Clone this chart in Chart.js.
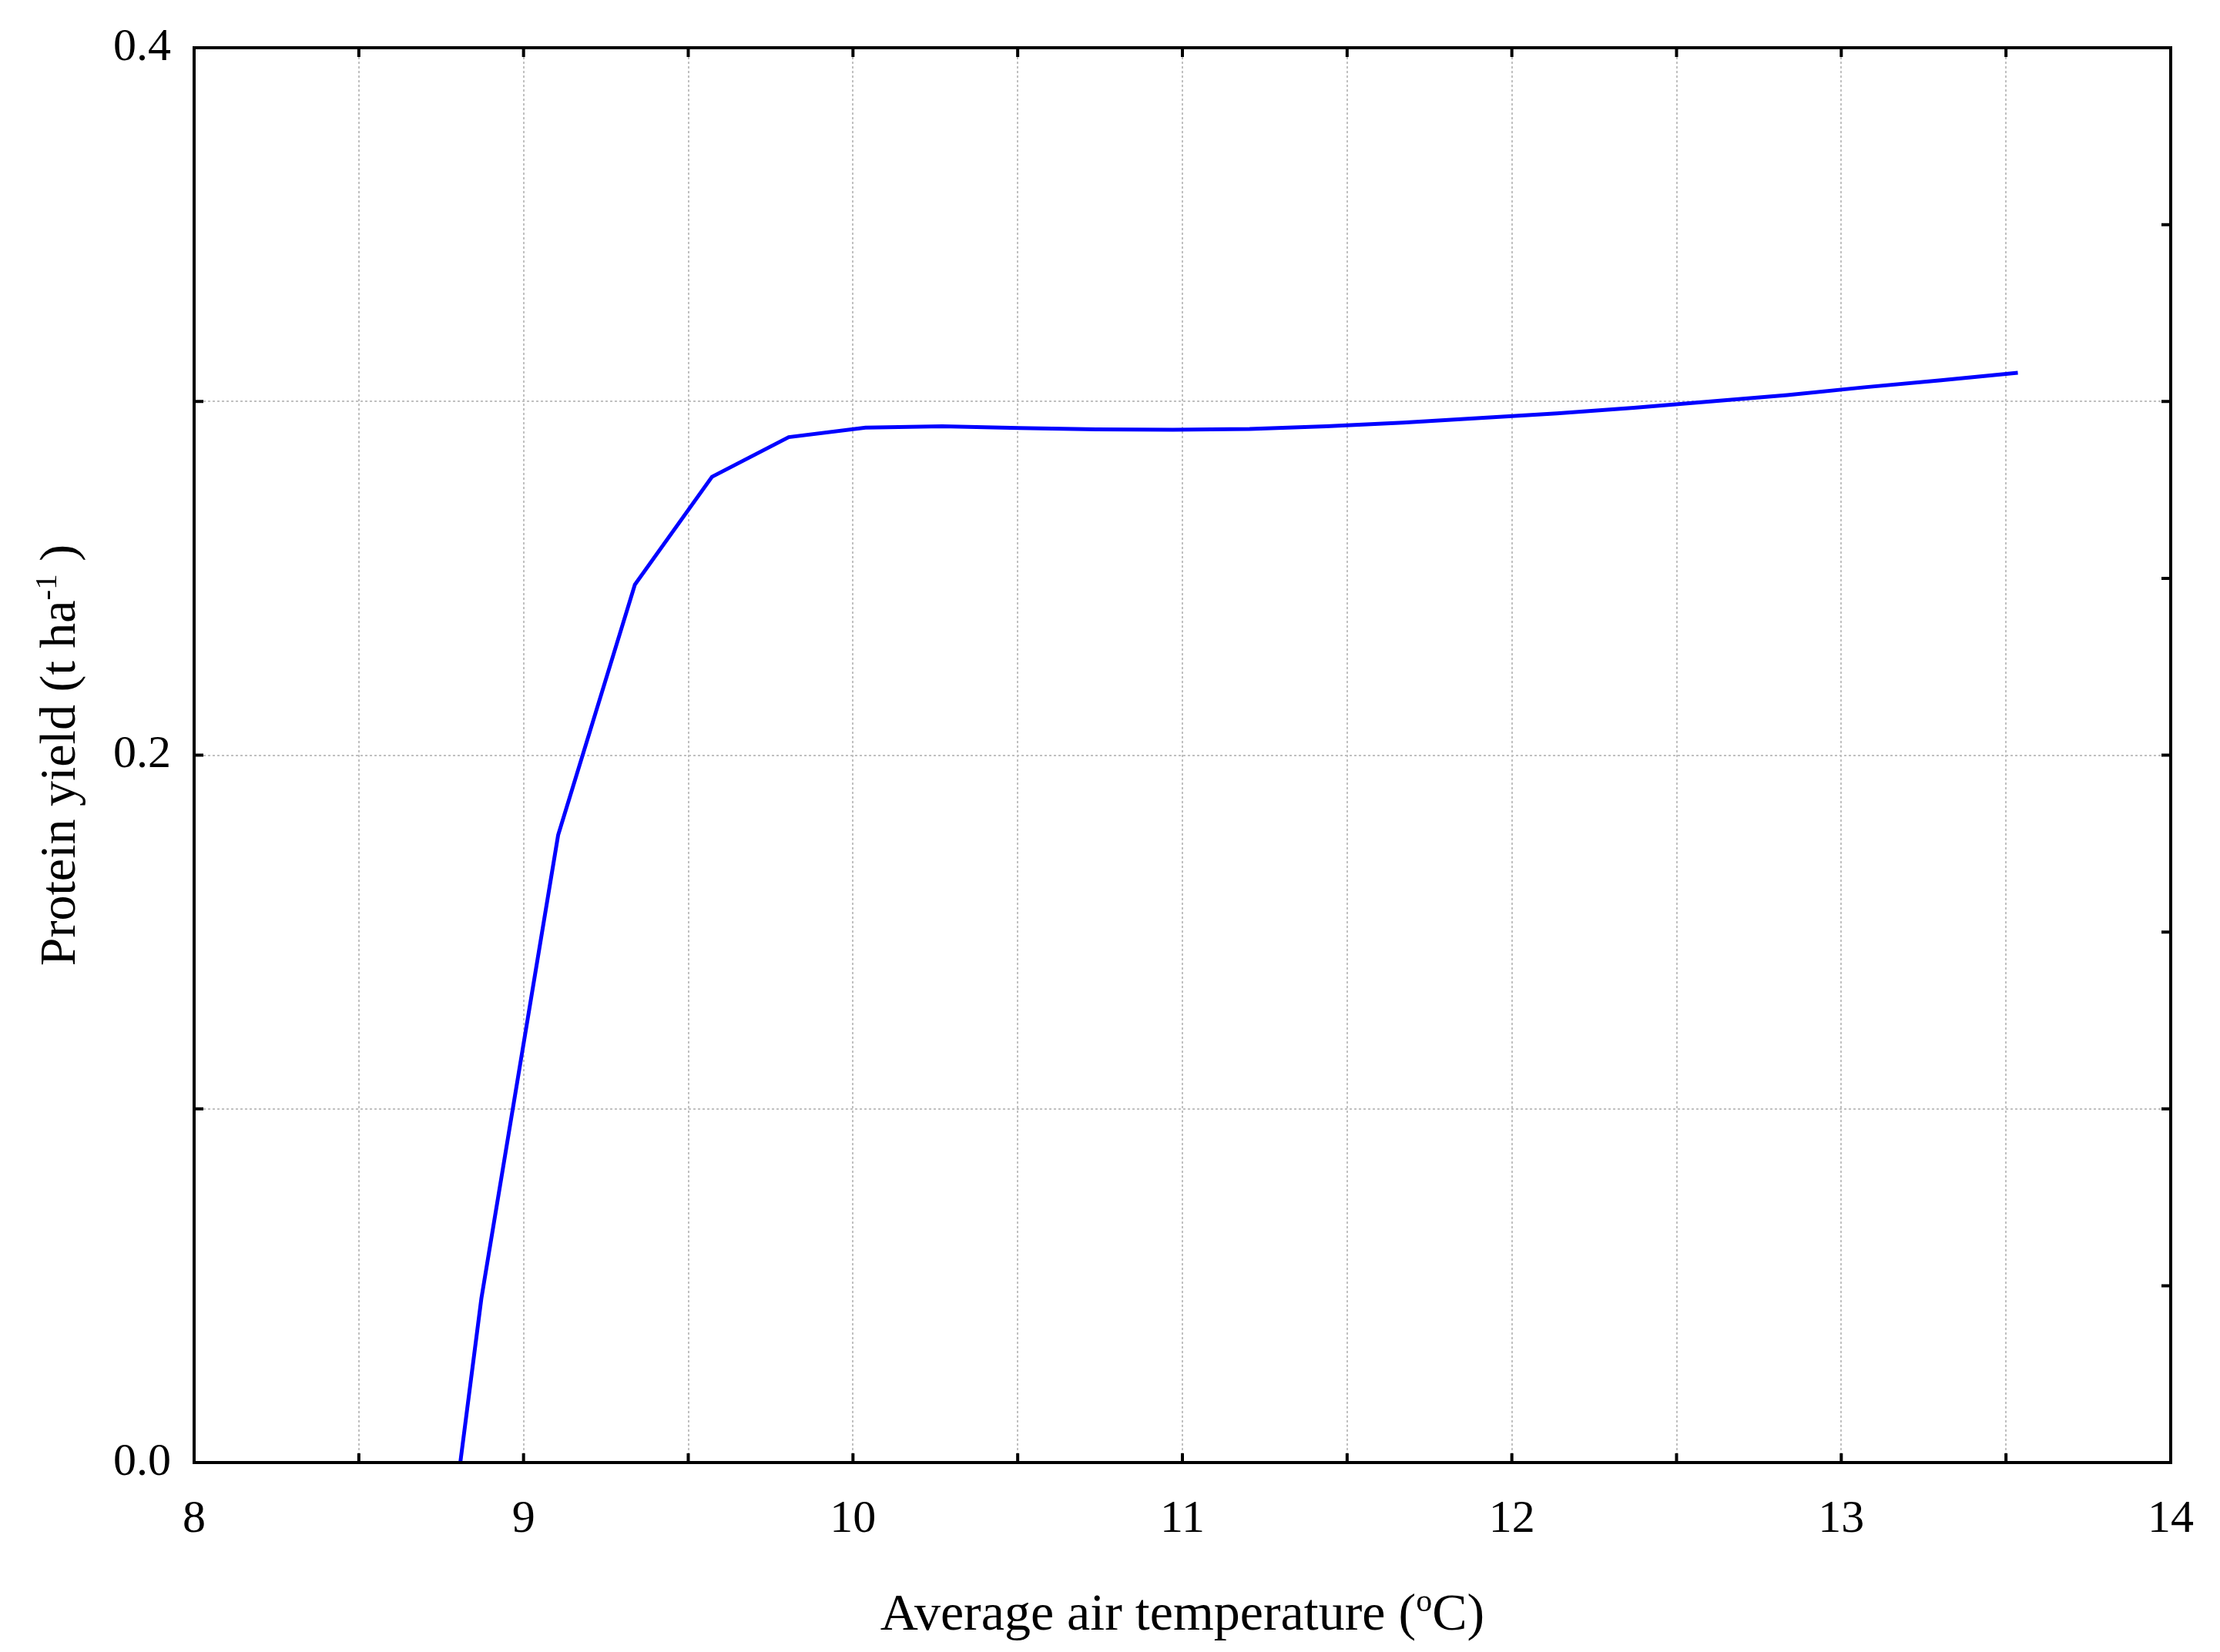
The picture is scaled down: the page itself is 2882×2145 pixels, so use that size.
<!DOCTYPE html>
<html>
<head>
<meta charset="utf-8">
<script src="https://cdn.jsdelivr.net/npm/chart.js@4.4.1/dist/chart.umd.min.js"></script>
<style>
  html, body { margin: 0; padding: 0; background: #fff; }
  canvas { display: block; }
</style>
</head>
<body>
<canvas id="chart" width="2882" height="2145"></canvas>
<script>
// values
const temperature = [8.808, 8.872, 9.105, 9.338, 9.572, 9.805, 10.038, 10.271, 10.504, 10.738, 10.971,
  11.204, 11.437, 11.670, 11.904, 12.137, 12.370, 12.603, 12.836, 13.070, 13.303, 13.536];
const proteinYield = [0.0, 0.0464, 0.1774, 0.2482, 0.2787, 0.2899, 0.2926, 0.2930, 0.2925, 0.2921, 0.2920,
  0.2922, 0.2930, 0.2940, 0.2953, 0.2966, 0.2982, 0.3000, 0.3018, 0.3040, 0.3060, 0.3081];

const xTitle = [{ t: "Average air temperature (" }, { t: "o", sup: true }, { t: "C)" }];
const yTitle = [{ t: "Protein yield (t ha" }, { t: "-1", sup: true }, { t: " )" }];

const FONT = "'Liberation Serif', 'Times New Roman', serif";
const gridColor = "#c0c0c0";

function drawRich(ctx, parts, size) {
  const supSize = Math.round(size * 0.62);
  let total = 0;
  parts.forEach(p => {
    ctx.font = (p.sup ? supSize : size) + "px " + FONT;
    p.w = ctx.measureText(p.t).width;
    total += p.w;
  });
  let x = -total / 2;
  parts.forEach(p => {
    ctx.font = (p.sup ? supSize : size) + "px " + FONT;
    ctx.fillText(p.t, x, p.sup ? -size * 0.36 : 0);
    x += p.w;
  });
}

const framePlugin = {
  id: "frame",
  afterDraw(chart) {
    const { ctx, chartArea: a, scales } = chart;
    ctx.save();
    ctx.strokeStyle = "#000";
    ctx.lineWidth = 4;
    ctx.strokeRect(a.left, a.top, a.right - a.left, a.bottom - a.top);

    // inward tick marks
    const len = 12;
    ctx.beginPath();
    for (let v = 8.5; v < 14; v += 0.5) {
      const px = scales.x.getPixelForValue(v);
      ctx.moveTo(px, a.bottom); ctx.lineTo(px, a.bottom - len);
      ctx.moveTo(px, a.top); ctx.lineTo(px, a.top + len);
    }
    for (let i = 1; i < 8; i++) {
      const py = scales.y.getPixelForValue(i * 0.05);
      ctx.moveTo(a.right, py); ctx.lineTo(a.right - len, py);
      if (i % 2 === 0) { ctx.moveTo(a.left, py); ctx.lineTo(a.left + len, py); }
    }
    ctx.stroke();

    // axis titles
    ctx.fillStyle = "#000";
    ctx.textBaseline = "alphabetic";
    ctx.textAlign = "left";
    ctx.save();
    ctx.translate((a.left + a.right) / 2, 2116);
    drawRich(ctx, xTitle, 68);
    ctx.restore();
    ctx.save();
    ctx.translate(97, (a.top + a.bottom) / 2);
    ctx.rotate(-Math.PI / 2);
    drawRich(ctx, yTitle, 66);
    ctx.restore();
    ctx.restore();
  }
};

const points = temperature.map((t, i) => ({ x: t, y: proteinYield[i] }));

new Chart(document.getElementById("chart"), {
  type: "line",
  data: {
    datasets: [{
      data: points,
      borderColor: "#0000ff",
      borderWidth: 5,
      pointRadius: 0,
      tension: 0,
      fill: false,
    }],
  },
  options: {
    responsive: false,
    animation: false,
    devicePixelRatio: 1,
    layout: { padding: { top: 62, right: 64, left: 0, bottom: 0 } },
    plugins: { legend: { display: false }, tooltip: { enabled: false } },
    scales: {
      x: {
        type: "linear",
        min: 8,
        max: 14,
        afterFit(scale) {
          scale.height = 246;
          scale.paddingLeft = 0;
          scale.paddingRight = 0;
        },
        ticks: {
          stepSize: 0.5,
          padding: 38,
          color: "#000",
          font: { family: FONT, size: 60 },
          maxRotation: 0,
          autoSkip: false,
          callback: v => (Math.abs(v - Math.round(v)) < 1e-6 ? String(Math.round(v)) : ""),
        },
        grid: {
          drawTicks: false,
          color: ctx => (ctx.tick && (ctx.tick.value === 8 || ctx.tick.value === 14) ? "rgba(0,0,0,0)" : gridColor),
          lineWidth: 2,
        },
        border: { display: false, dash: [3, 3] },
      },
      y: {
        type: "linear",
        min: 0,
        max: 0.4,
        afterFit(scale) {
          scale.width = 252;
          scale.paddingTop = 0;
          scale.paddingBottom = 0;
        },
        ticks: {
          stepSize: 0.1,
          padding: 30,
          color: "#000",
          font: { family: FONT, size: 60 },
          autoSkip: false,
          callback: v => (Math.round(v * 10) % 2 === 0 ? v.toFixed(1) : ""),
        },
        grid: {
          drawTicks: false,
          color: ctx => (ctx.tick && (ctx.tick.value <= 0 || ctx.tick.value >= 0.4) ? "rgba(0,0,0,0)" : gridColor),
          lineWidth: 2,
        },
        border: { display: false, dash: [3, 3] },
      },
    },
  },
  plugins: [framePlugin],
});
</script>
</body>
</html>
